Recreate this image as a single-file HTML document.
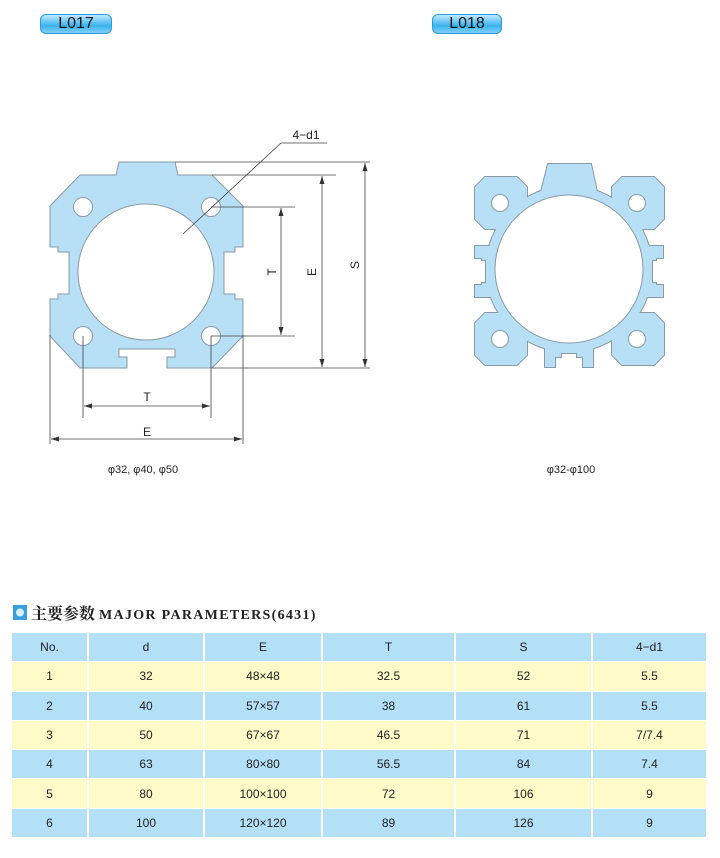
<!DOCTYPE html>
<html><head><meta charset="utf-8"><style>
body{margin:0;width:720px;height:858px;background:#fff;position:relative;font-family:"Liberation Sans","Noto Sans CJK SC",sans-serif;overflow:hidden}
.pill{position:absolute;height:18px;border-radius:6px;background:linear-gradient(#bfe9ff,#3ab3ee 60%,#7fd0f7);border:1px solid #2a9bd6;font-size:16px;line-height:18px;text-align:center;color:#111}
table{position:absolute;left:12px;top:633px;border-collapse:collapse;font-size:12px;color:#222}
td{height:28.3px;text-align:center;border-right:2px solid #fff;padding:0}
tr:nth-child(odd) td{background:#b3dff7}
tr:nth-child(even) td{background:#fefbc8}
tr{border-bottom:1px solid #fff}
</style></head><body>
<div class="pill" style="left:40px;top:14px;width:70px">L017</div>
<div class="pill" style="left:432px;top:14px;width:68px">L018</div>
<svg width="720" height="630" style="position:absolute;left:0;top:0" font-family="Liberation Sans, sans-serif">
<defs><marker id="a" markerWidth="8" markerHeight="6" refX="8" refY="3" orient="auto-start-reverse" markerUnits="userSpaceOnUse"><path d="M0,0.5 L8,3 L0,5.5z" fill="#333"/></marker></defs>
<!-- L017 -->
<path d="M119,162 L175,162 L178,175 L212,175 L243,206 L243,247 L235,247 L235,252 L224,252 L224,294 L235,294 L235,299 L243,299 L243,336 L212,368 L167,368 L167,357 L175,357 L175,349 L119,349 L119,357 L127,357 L127,368 L80,368 L50,336 L50,299 L58,299 L58,294 L69,294 L69,252 L58,252 L58,247 L50,247 L50,206 L80,175 L116,175 Z" fill="#b7dff5" stroke="#8a9aa5" stroke-width="1"/>
<g fill="#fff" stroke="#8a9aa5"><circle cx="146" cy="272" r="68"/><circle cx="83" cy="207" r="9.5"/><circle cx="211" cy="207" r="9.5"/><circle cx="83" cy="336" r="9.5"/><circle cx="211" cy="336" r="9.5"/></g>
<g stroke="#444" stroke-width="0.8" fill="none">
<line x1="175" y1="162" x2="370" y2="162"/><line x1="212" y1="175" x2="336" y2="175"/>
<line x1="211" y1="207" x2="295" y2="207"/><line x1="211" y1="336" x2="295" y2="336"/>
<line x1="212" y1="368" x2="370" y2="368"/>
<line x1="281" y1="208" x2="281" y2="335" marker-start="url(#a)" marker-end="url(#a)"/>
<line x1="322" y1="176" x2="322" y2="367" marker-start="url(#a)" marker-end="url(#a)"/>
<line x1="365" y1="163" x2="365" y2="367" marker-start="url(#a)" marker-end="url(#a)"/>
<line x1="83" y1="336" x2="83" y2="418"/><line x1="211" y1="336" x2="211" y2="418"/>
<line x1="84" y1="406" x2="210" y2="406" marker-start="url(#a)" marker-end="url(#a)"/>
<line x1="50" y1="335" x2="50" y2="444"/><line x1="243" y1="335" x2="243" y2="444"/>
<line x1="51" y1="439" x2="242" y2="439" marker-start="url(#a)" marker-end="url(#a)"/>
<polyline points="183,234 281,143 327,143"/>
</g>
<g font-size="12" fill="#222" text-anchor="middle">
<text x="306" y="139">4−d1</text>
<text x="147" y="401">T</text><text x="147" y="436">E</text>
<text transform="translate(276,272) rotate(-90)">T</text>
<text transform="translate(316,272) rotate(-90)">E</text>
<text transform="translate(359,265) rotate(-90)">S</text>
<text x="143" y="473" font-size="11">φ32, φ40, φ50</text>
<text x="571" y="473" font-size="11">φ32-φ100</text>
</g>
<!-- L018 -->
<g id="u">
<circle cx="569" cy="269" r="83"/>
<path d="M485,177 L517,177 L527,187 L527,219 L517,229 L485,229 L475,219 L475,187Z"/>
<path d="M622,177 L654,177 L664,187 L664,219 L654,229 L622,229 L612,219 L612,187Z"/>
<path d="M485,313 L517,313 L527,323 L527,355 L517,365 L485,365 L475,355 L475,323Z"/>
<path d="M622,313 L654,313 L664,323 L664,355 L654,365 L622,365 L612,355 L612,323Z"/>
<path d="M548,164 L591,164 L597,192 L597,205 L541,205 L541,192Z"/>
<path d="M475,246 L495,246 L495,297 L475,297 L475,285 L482,285 L482,283 L486,283 L486,260 L482,260 L482,258 L475,258Z"/>
<path d="M663,246 L643,246 L643,297 L663,297 L663,285 L656,285 L656,283 L652,283 L652,260 L656,260 L656,258 L663,258Z"/>
<path d="M545,335 L545,367 L555,367 L555,357 L561,357 L561,353 L577,353 L577,357 L583,357 L583,367 L593,367 L593,335Z"/>
</g>
<use href="#u" fill="#b7dff5" stroke="#8a9aa5" stroke-width="2"/>
<use href="#u" fill="#b7dff5" stroke="none"/>
<g fill="#fff" stroke="#8a9aa5"><circle cx="569" cy="269" r="74"/><circle cx="500" cy="203" r="8.5"/><circle cx="637" cy="203" r="8.5"/><circle cx="500" cy="339" r="8.5"/><circle cx="637" cy="339" r="8.5"/></g>
<!-- header -->
<rect x="13" y="605" width="14" height="15" fill="#3b9ee0"/><circle cx="20" cy="612.5" r="4" fill="#d6f0ff"/>
<text x="31" y="619" font-family="Liberation Serif, Noto Serif CJK SC, serif" font-weight="bold" font-size="16" fill="#222">主要参数 <tspan font-size="14" letter-spacing="1.3">MAJOR PARAMETERS(6431)</tspan></text>
</svg>
<table>
<colgroup><col style="width:76px"><col style="width:116px"><col style="width:118px"><col style="width:133px"><col style="width:137px"><col style="width:115px"></colgroup>
<tr><td>No.</td><td>d</td><td>E</td><td>T</td><td>S</td><td>4−d1</td></tr>
<tr><td>1</td><td>32</td><td>48×48</td><td>32.5</td><td>52</td><td>5.5</td></tr>
<tr><td>2</td><td>40</td><td>57×57</td><td>38</td><td>61</td><td>5.5</td></tr>
<tr><td>3</td><td>50</td><td>67×67</td><td>46.5</td><td>71</td><td>7/7.4</td></tr>
<tr><td>4</td><td>63</td><td>80×80</td><td>56.5</td><td>84</td><td>7.4</td></tr>
<tr><td>5</td><td>80</td><td>100×100</td><td>72</td><td>106</td><td>9</td></tr>
<tr><td>6</td><td>100</td><td>120×120</td><td>89</td><td>126</td><td>9</td></tr>
</table>
</body></html>
